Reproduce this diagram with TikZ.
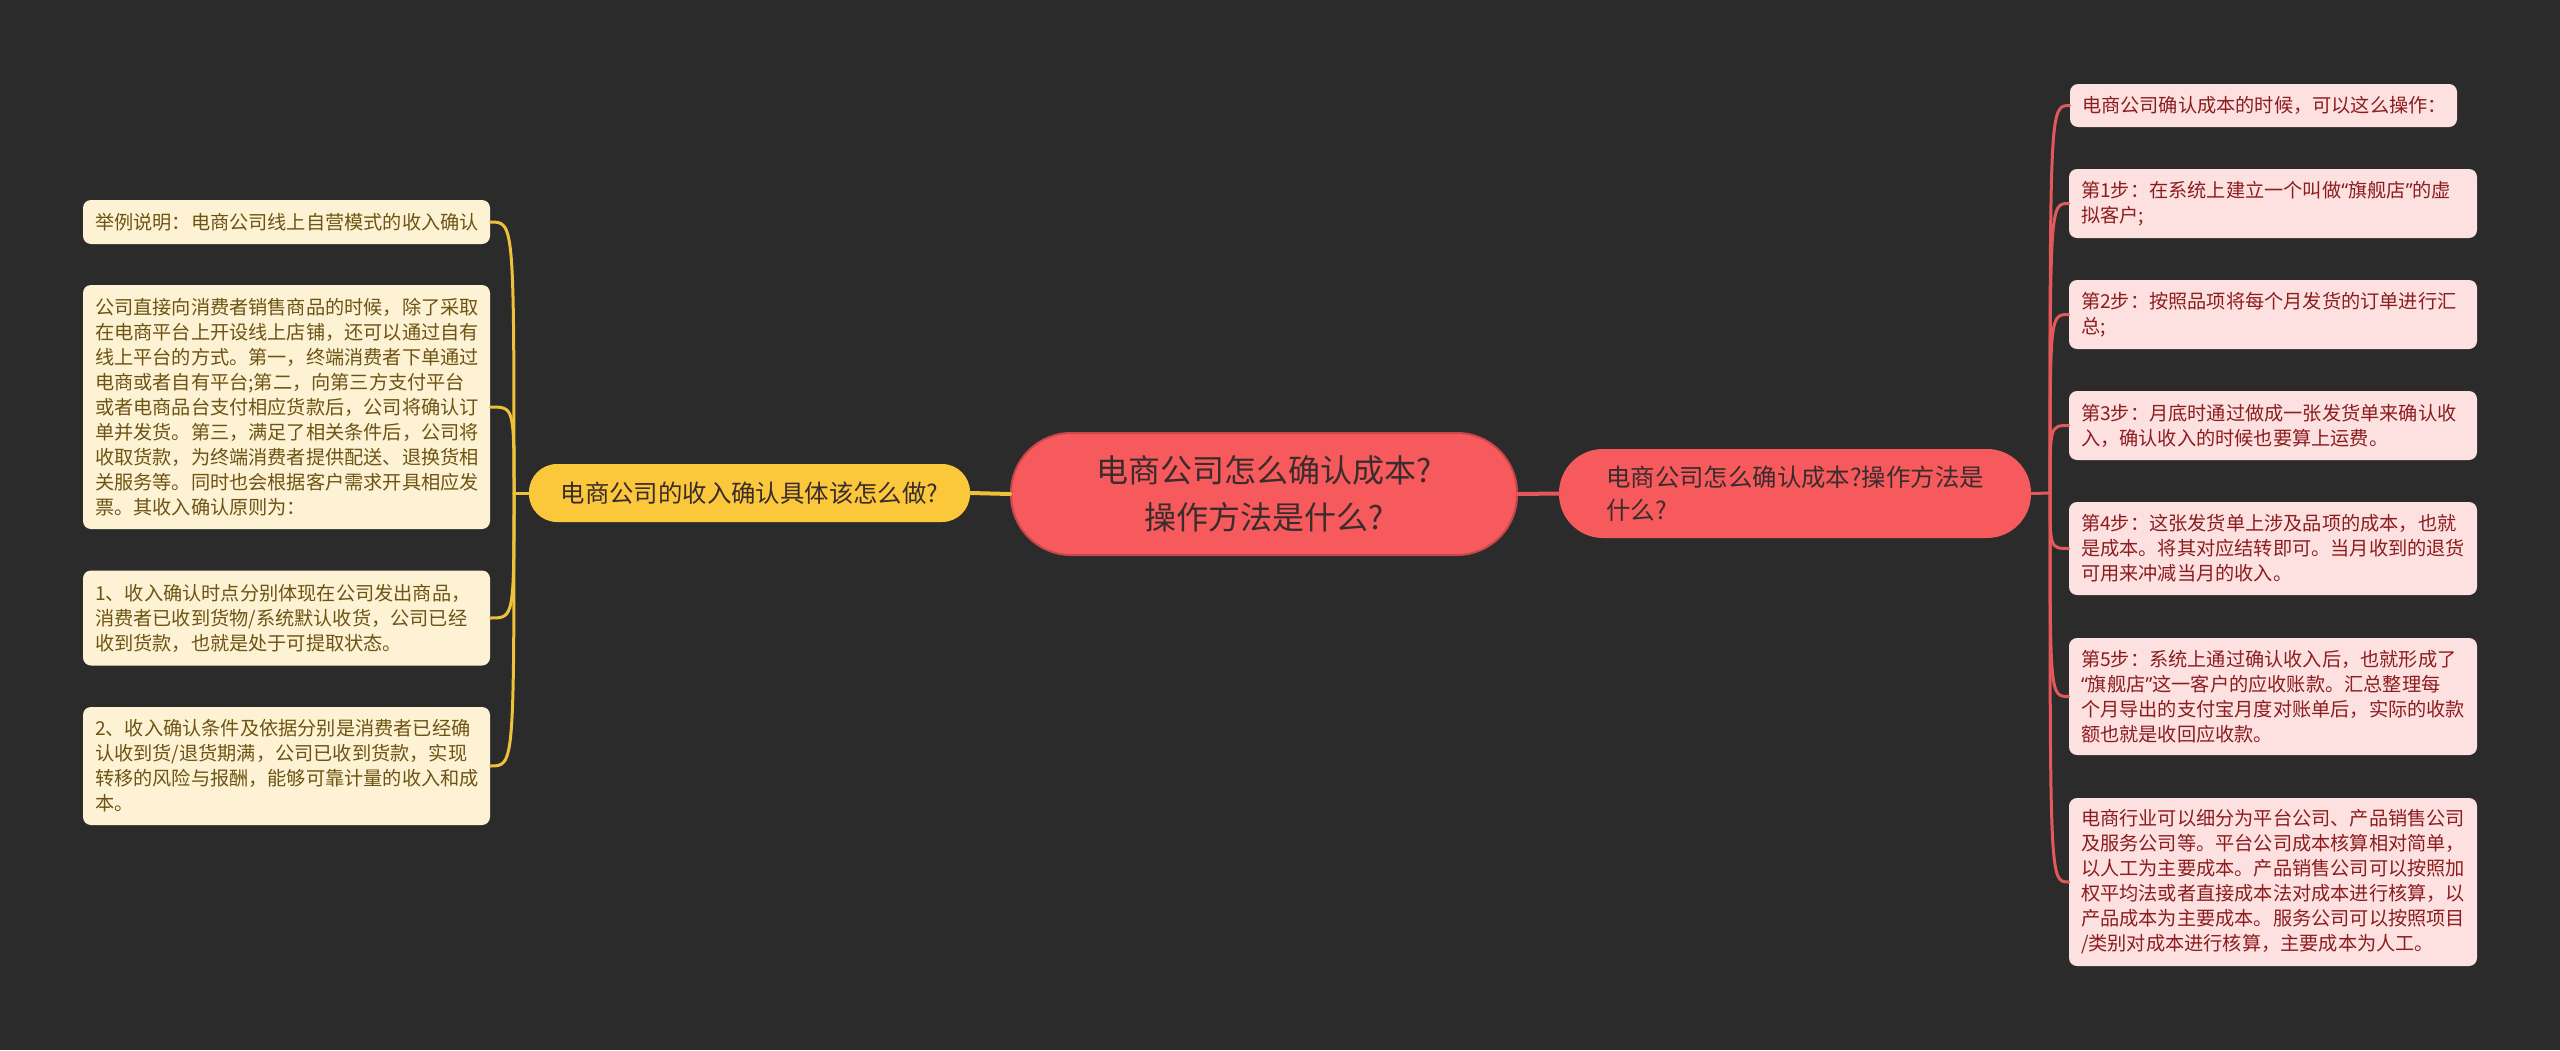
\documentclass[tikz,border=0pt]{standalone}
\usepackage{fontspec}
\setmainfont{Noto Sans CJK SC}
\newfontfamily\quotefont{Noto Sans}
\usepackage{xcolor}
\usepackage{tikz}
\usetikzlibrary{calc}

\definecolor{bgdark}{HTML}{2B2B2B}
\definecolor{rootred}{HTML}{F75A5C}
\definecolor{rootrim}{HTML}{C9474A}
\definecolor{mainyellow}{HTML}{FBC83B}
\definecolor{leafcream}{HTML}{FDF3D4}
\definecolor{leafpink}{HTML}{FDE1E1}
\definecolor{textbrown}{HTML}{6E5414}
\definecolor{textred}{HTML}{8C1D1F}
\definecolor{textdark}{HTML}{3A2C2C}
\definecolor{lineyellow}{HTML}{EDC23A}
\definecolor{linered}{HTML}{E2585B}

\newcommand{\openq}{{\quotefont “}}
\newcommand{\closeq}{{\quotefont ”}}

\begin{document}
\begin{tikzpicture}[
  x=0.5pt, y=-0.5pt,
  line cap=round,
  line join=round,
  every node/.style={inner sep=0pt},
  rootbox/.style={fill=rootred, draw=rootrim, line width=1pt, rounded corners=30pt,
    text=textdark, align=center, font=\fontsize{16pt}{23.5pt}\selectfont},
  mainbox/.style={rounded corners=14pt, text=textdark, align=left,
    font=\fontsize{12.2pt}{16.5pt}\selectfont},
  leafL/.style={fill=leafcream, rounded corners=4pt, text=textbrown, align=left,
    inner xsep=6pt, text width=191.5pt, font=\fontsize{9.6pt}{12.5pt}\selectfont},
  leafR/.style={fill=leafpink, rounded corners=4pt, text=textred, align=left,
    inner xsep=6pt, text width=192pt, font=\fontsize{9.6pt}{12.5pt}\selectfont},
  ylink/.style={draw=lineyellow, line width=1.5pt},
  rlink/.style={draw=linered, line width=1.5pt}
]
  \useasboundingbox (0,0) rectangle (2560,1050);
  \fill[bgdark] (0,0) rectangle (2560,1050);

  % Centre and the two branches
  \node[rootbox, minimum width=253pt, minimum height=61pt] (root) at (1264,494)
    {电商公司怎么确认成本?\\操作方法是什么?};
  \node[mainbox, fill=mainyellow, minimum width=220.5pt, minimum height=29pt] (incL) at (749.5,493)
    {电商公司的收入确认具体该怎么做?};
  \node[mainbox, fill=rootred, rounded corners=22pt, minimum width=236pt, minimum height=44.5pt] (costR) at (1795,493.5)
    {电商公司怎么确认成本?操作方法是\\什么?};

  \coordinate (jL) at (514,493);
  \coordinate (jR) at (2050,493);

  % Left leaves
  \node[leafL, minimum height=22pt] (l1) at (286.5,222)
    {举例说明：电商公司线上自营模式的收入确认};
  \node[leafL, minimum height=122pt] (l2) at (286.5,407)
    {公司直接向消费者销售商品的时候，除了采取\\
     在电商平台上开设线上店铺，还可以通过自有\\
     线上平台的方式。第一，终端消费者下单通过\\
     电商或者自有平台;第二，向第三方支付平台\\
     或者电商品台支付相应货款后，公司将确认订\\
     单并发货。第三，满足了相关条件后，公司将\\
     收取货款，为终端消费者提供配送、退换货相\\
     关服务等。同时也会根据客户需求开具相应发\\
     票。其收入确认原则为：};
  \node[leafL, minimum height=47.5pt] (l3) at (286.5,618)
    {1、收入确认时点分别体现在公司发出商品，\\
     消费者已收到货物/系统默认收货，公司已经\\
     收到货款，也就是处于可提取状态。};
  \node[leafL, minimum height=59pt] (l4) at (286.5,766)
    {2、收入确认条件及依据分别是消费者已经确\\
     认收到货/退货期满，公司已收到货款，实现\\
     转移的风险与报酬，能够可靠计量的收入和成\\
     本。};

  % Right leaves
  \node[leafR, text width=181.5pt, minimum height=21.5pt] (r1) at (2263.5,105.5)
    {电商公司确认成本的时候，可以这么操作：};
  \node[leafR, minimum height=34.5pt] (r2) at (2273,203.5)
    {第1步：在系统上建立一个叫做\openq 旗舰店\closeq 的虚\\拟客户;};
  \node[leafR, minimum height=34.5pt] (r3) at (2273,314.5)
    {第2步：按照品项将每个月发货的订单进行汇\\总;};
  \node[leafR, minimum height=34.5pt] (r4) at (2273,425.5)
    {第3步：月底时通过做成一张发货单来确认收\\入，确认收入的时候也要算上运费。};
  \node[leafR, minimum height=46.5pt] (r5) at (2273,548.5)
    {第4步：这张发货单上涉及品项的成本，也就\\
     是成本。将其对应结转即可。当月收到的退货\\
     可用来冲减当月的收入。};
  \node[leafR, minimum height=58.5pt] (r6) at (2273,696.5)
    {第5步：系统上通过确认收入后，也就形成了\\
     \openq 旗舰店\closeq 这一客户的应收账款。汇总整理每\\
     个月导出的支付宝月度对账单后，实际的收款\\
     额也就是收回应收款。};
  \node[leafR, minimum height=84pt] (r7) at (2273,882)
    {电商行业可以细分为平台公司、产品销售公司\\
     及服务公司等。平台公司成本核算相对简单，\\
     以人工为主要成本。产品销售公司可以按照加\\
     权平均法或者直接成本法对成本进行核算，以\\
     产品成本为主要成本。服务公司可以按照项目\\
     /类别对成本进行核算，主要成本为人工。};

  % Links
  \draw[ylink, line width=2pt] (root.west) -- (incL.east);
  \draw[rlink, line width=2pt] (root.east) -- (costR.west);
  \draw[ylink] (incL.west) -- (jL);
  \draw[rlink] (costR.east) -- (jR);
  \foreach \leaf in {l1,l2,l3,l4}
    \draw[ylink] (jL) .. controls (jL |- \leaf.east) .. (\leaf.east);
  \foreach \leaf in {r1,r2,r3,r4,r5,r6,r7}
    \draw[rlink] (jR) .. controls (jR |- \leaf.west) .. (\leaf.west);
\end{tikzpicture}
\end{document}
